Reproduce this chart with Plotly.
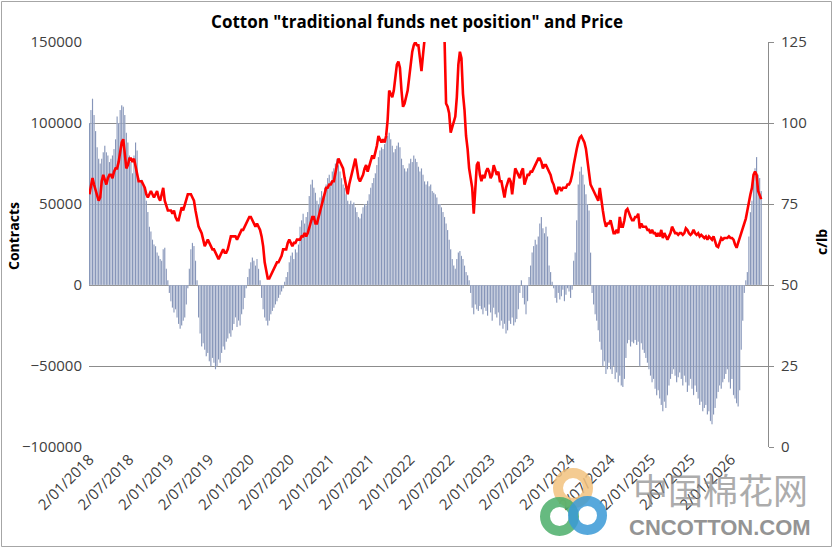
import pandas as pd
import plotly.graph_objects as go

start_date = "2018-01-02"

# Net position of traditional funds (thousand contracts), weekly
net_k = [
    100,108,115,105,95,85,78,75,78,82,86,82,80,76,78,80,84,90,104,100,108,111,110,105,94,88,
    80,76,69,80,88,83,66,64,65,62,58,52,45,36,33,28,25,24,20,18,16,15,22,23,10,3,
    -5,-10,-14,-17,-15,-20,-24,-27,-25,-22,-20,-12,-2,10,22,26,24,15,3,-20,-30,-38,-36,-40,-44,-42,
    -47,-50,-45,-48,-52,-50,-46,-48,-42,-38,-40,-35,-33,-30,-32,-28,-24,-20,-26,-22,-25,-18,-15,-8,-2,5,
    10,14,17,15,12,16,10,3,-8,-15,-20,-22,-25,-22,-18,-16,-14,-12,-10,-8,-6,-4,-2,2,5,8,
    14,18,20,16,22,20,25,36,40,44,38,42,45,55,62,65,60,57,52,50,54,58,55,60,62,66,
    68,64,70,72,75,78,74,70,66,62,60,56,52,50,52,50,51,48,45,42,41,44,48,50,49,52,
    56,60,63,66,69,74,79,83,85,84,87,90,92,94,90,86,82,84,86,88,85,78,74,72,70,72,
    75,78,76,80,78,76,73,70,72,68,64,62,64,61,62,58,57,56,54,50,50,48,45,42,38,34,
    28,22,16,12,10,16,20,21,18,16,12,8,6,3,-5,-14,-18,-12,-15,-16,-13,-15,-18,-14,-16,-19,
    -12,-17,-22,-14,-18,-20,-17,-25,-22,-27,-24,-30,-28,-22,-24,-20,-25,-23,-21,-15,-5,3,-8,-12,-18,-10,
    5,12,20,24,28,25,30,38,42,35,32,36,30,12,8,2,-2,-8,-11,-5,-9,-7,-3,-10,-6,-2,
    -4,-8,-3,15,20,40,62,70,73,68,62,56,50,46,20,-5,-12,-18,-22,-28,-35,-40,-50,-47,-55,-52,
    -48,-52,-55,-50,-58,-54,-60,-56,-62,-63,-58,-45,-36,-34,-38,-35,-36,-34,-37,-35,-50,-36,-40,-42,-45,-48,
    -52,-56,-60,-58,-64,-68,-65,-70,-74,-78,-72,-76,-68,-62,-58,-55,-52,-56,-60,-57,-54,-58,-62,-56,-60,-66,
    -62,-58,-64,-68,-62,-66,-70,-74,-72,-78,-76,-74,-80,-78,-84,-86,-80,-76,-70,-66,-62,-64,-60,-58,-55,-52,
    -60,-64,-58,-68,-70,-73,-75,-65,-40,-22,-5,3,8,30,45,52,66,72,79,68,66,58,
]

# Cotton price (c/lb), weekly
price = [
    78,81,83,81,79,77,76,77,82,84,82,81,83,84,84,83,85,86,86,88,91,94,95,90,86,87,
    89,89,88,89,87,84,82,82,82,81,80,78,77,78,79,78,77,78,79,77,76,78,80,76,74,73,
    73,73,72,73,71,70,70,72,74,73,75,77,78,78,78,77,76,73,70,68,67,66,64,62,63,64,
    63,62,61,61,60,59,58,59,60,61,60,60,61,63,65,65,65,65,64,65,66,67,67,68,69,70,
    71,71,70,69,68,69,68,67,65,62,57,54,52,52,53,54,55,56,57,57,58,59,61,61,61,63,
    64,63,62,63,63,64,64,64,65,65,66,65,66,68,69,71,71,69,69,71,72,74,76,78,80,80,
    81,81,82,82,84,87,89,88,87,86,83,80,78,81,83,84,87,89,86,83,82,83,84,86,87,85,
    87,89,90,89,91,93,96,95,94,95,94,96,101,110,109,108,110,115,118,119,117,110,105,106,108,110,
    114,118,122,124,125,124,124,120,116,121,126,132,136,140,138,142,145,150,152,148,143,138,135,126,106,105,
    103,97,99,101,102,108,118,122,120,109,104,96,92,86,83,80,72,80,87,88,84,82,84,83,85,86,
    85,83,84,87,85,84,85,82,82,79,77,80,82,83,82,78,82,86,85,84,83,85,86,81,83,84,
    84,85,85,86,87,88,89,89,88,86,87,87,86,85,84,82,81,79,78,80,80,79,80,80,80,81,
    81,82,84,87,90,92,94,95.5,96,95,94,92,88,85,81,80,79,78,77,76,80,76,73,70,68,69,
    69,70,68,66,66,67,66,71,68,68,70,73,73.5,72,71,70,70,71,71,72,67.5,69,68,68,68,67,
    67,66,67,66,66,65,66,65,67,64.5,66,65,64,65,66,68,67,66,66,65.5,66,66,65.5,66,67.5,67,
    66,65.5,66,67,66,65.5,66,65,65.5,65,64.5,65,64,65,64.5,64,65,63.5,62,61.7,63,64.5,64,64.5,64.5,64.5,
    65,64.5,64.5,64,62.5,61.5,63,64.5,65.5,67,68.5,70.5,73,76,78,80,84,85,84,79,78,76.5,
]

tick_labels = [
    "2/01/2018", "2/07/2018", "2/01/2019", "2/07/2019", "2/01/2020", "2/07/2020",
    "2/01/2021", "2/07/2021", "2/01/2022", "2/07/2022", "2/01/2023", "2/07/2023",
    "2/01/2024", "2/07/2024", "2/01/2025", "2/07/2025", "2/01/2026",
]

assert len(net_k) == len(price), (len(net_k), len(price))

net = [v * 1000 for v in net_k]
dates = pd.date_range(start=start_date, periods=len(net), freq="7D")
tick_dates = pd.to_datetime(tick_labels, format="%d/%m/%Y")

FONT = "Open Sans"
GRID = "#8c8c8c"

fig = go.Figure()
fig.add_trace(go.Bar(
    x=dates, y=net, name="Net position",
    marker=dict(color="#6a7da9", line=dict(width=0.25, color="white")),
    yaxis="y",
))
fig.add_trace(go.Scatter(
    x=dates, y=price, name="Price", mode="lines",
    line=dict(color="#ff0000", width=2.6),
    yaxis="y2",
))

# pixel -> paper helpers for decorations
L, R, T, B = 89, 66, 42, 102
W, H = 834, 549
PW, PH = W - L - R, H - T - B


def px(xp):
    return (xp - L) / PW


def py(yp):
    return (H - B - yp) / PH


fig.update_layout(
    width=W, height=H,
    margin=dict(l=L, r=R, t=T, b=B),
    paper_bgcolor="white", plot_bgcolor="white",
    showlegend=False,
    bargap=0.25,
    font=dict(family=FONT, color="#404040", size=15),
    title=dict(
        text='Cotton "traditional funds net position" and Price',
        x=0.5, xref="container", xanchor="center",
        y=1 - 22 / H, yref="container", yanchor="middle",
        font=dict(family=FONT, size=17, color="#000000", weight="bold"),
    ),
    xaxis=dict(
        type="date",
        range=["2017-12-31", "2026-06-19"],
        tickvals=tick_dates, ticktext=tick_labels,
        tickangle=-45, showgrid=False, showline=False, zeroline=False,
        ticks="", tickfont=dict(size=15, color="#404040"),
    ),
    yaxis=dict(
        range=[-100000, 150000], dtick=50000, tickformat="d",
        showgrid=True, gridcolor=GRID, gridwidth=1,
        zeroline=False, showline=False, ticks="",
        tickfont=dict(size=15, color="#404040"),
        ticklabelstandoff=6,
    ),
    yaxis2=dict(
        range=[0, 125], dtick=25, overlaying="y", side="right",
        showgrid=False, zeroline=False, showline=True, linecolor=GRID,
        ticks="outside", ticklen=5, tickcolor=GRID,
        tickfont=dict(size=15, color="#404040"),
        ticklabelstandoff=4,
    ),
    annotations=[
        dict(text="<b>Contracts</b>", xref="paper", yref="paper",
             x=px(14), y=py(236), xanchor="center", yanchor="middle",
             textangle=-90, showarrow=False,
             font=dict(family=FONT, size=14, color="#000000")),
        dict(text="<b>c/lb</b>", xref="paper", yref="paper",
             x=px(821), y=py(242), xanchor="center", yanchor="middle",
             textangle=-90, showarrow=False,
             font=dict(family=FONT, size=14, color="#000000")),
        dict(text="中国棉花网", xref="paper", yref="paper",
             x=px(720), y=py(489), xanchor="center", yanchor="middle",
             showarrow=False, opacity=0.7,
             font=dict(family="Noto Sans CJK SC", size=35, color="#8a8a8a")),
        dict(text="<b>CNCOTTON.COM</b>", xref="paper", yref="paper",
             x=px(720), y=py(527), xanchor="center", yanchor="middle",
             showarrow=False, opacity=0.8,
             font=dict(family="Liberation Sans", size=22, color="#7a7a7a")),
    ],
    shapes=[
        dict(type="rect", xref="paper", yref="paper",
             x0=px(1.5), x1=px(831.5), y0=py(546.5), y1=py(1.5),
             line=dict(color="#a6a6a6", width=1)),
        dict(type="circle", xref="paper", yref="paper",
             x0=px(558), x1=px(588), y0=py(503), y1=py(473),
             line=dict(color="#f3c27e", width=10), opacity=0.85),
        dict(type="circle", xref="paper", yref="paper",
             x0=px(545), x1=px(574), y0=py(531), y1=py(502),
             line=dict(color="#4caf6a", width=10), opacity=0.85),
        dict(type="circle", xref="paper", yref="paper",
             x0=px(573), x1=px(602), y0=py(530), y1=py(501),
             line=dict(color="#3a9ad6", width=10), opacity=0.85),
    ],
)

fig.write_html("out.html")
